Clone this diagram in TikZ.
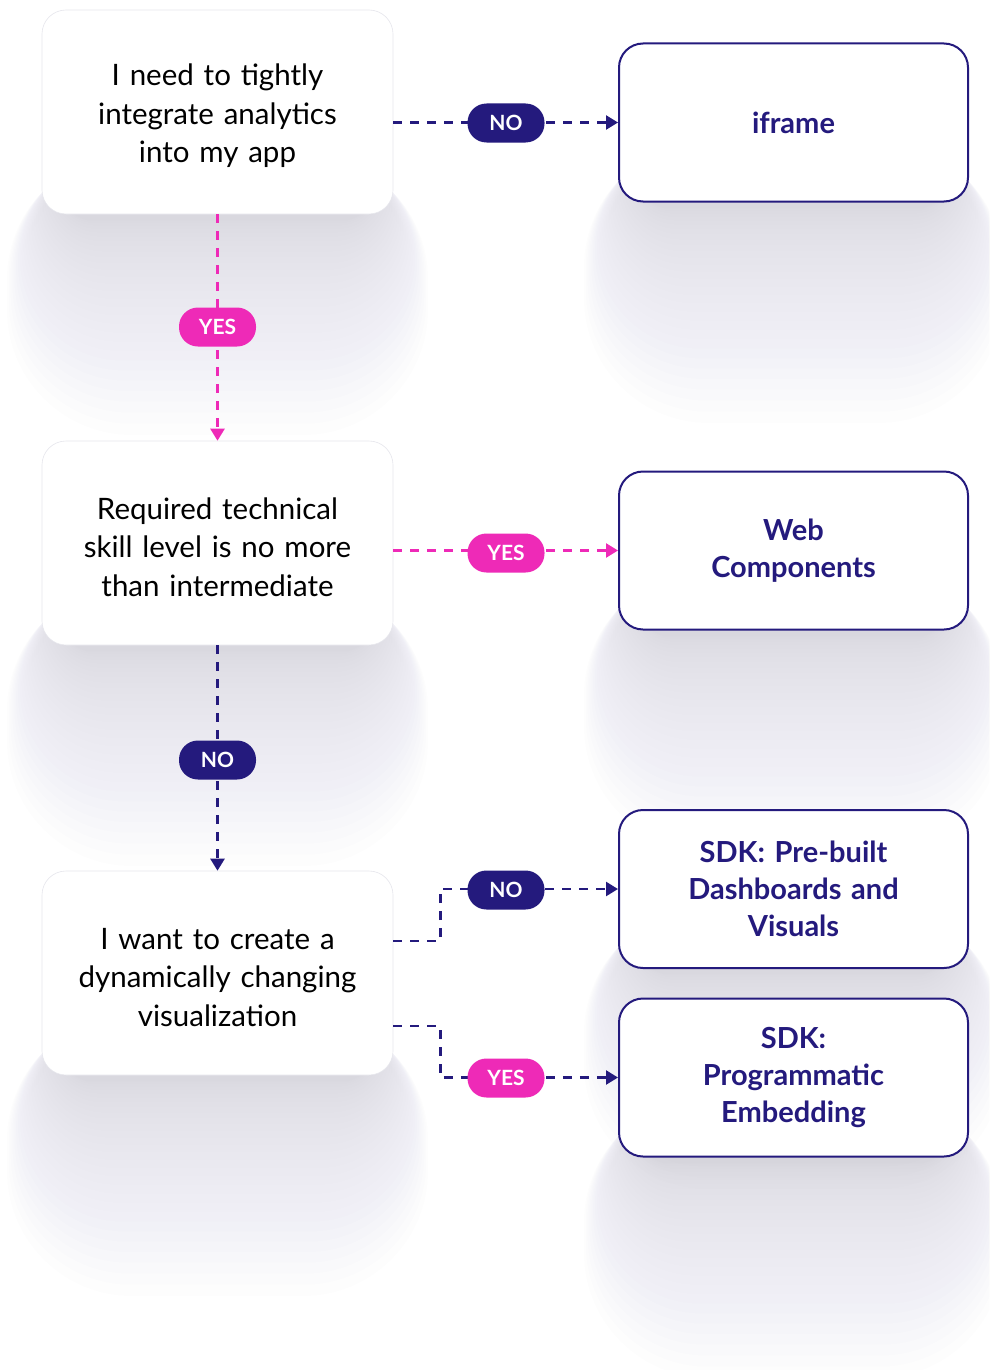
\documentclass[tikz,border=0pt]{standalone}
\usepackage{fontspec}
\setmainfont{Lato}
\usetikzlibrary{arrows.meta,calc}
\definecolor{navy}{HTML}{241A7D}
\definecolor{hotpink}{HTML}{EE2AB7}
\definecolor{edgegray}{HTML}{E6E6EC}
\definecolor{shadecol}{HTML}{72707E}

\newcommand{\firstline}{\rule{0pt}{30pt}}

\tikzset{
  qbox/.style={draw=edgegray, line width=0.6pt, fill=white, rounded corners=24pt,
    minimum width=351pt, minimum height=204pt, text width=330pt, align=center,
    font=\fontsize{29.5}{38.5}\selectfont, text=black},
  abox/.style={draw=navy, line width=2pt, fill=white, rounded corners=24pt,
    minimum width=349pt, minimum height=158pt, text width=330pt, align=center,
    font=\fontsize{29}{37}\selectfont\bfseries, text=navy},
  pill/.style={rounded corners=19pt, minimum width=77pt, minimum height=39pt,
    inner sep=0pt, text=white, font=\fontsize{21}{21}\selectfont\bfseries},
  nopill/.style={pill, fill=navy},
  yespill/.style={pill, fill=hotpink},
  link/.style={dash pattern=on 9pt off 8pt, line width=2.4pt},
  tip/.style={-{Triangle[length=12pt,width=14pt]}},
  shadelayer/.style={fill=shadecol, fill opacity=0.0085}
}

% soft drop shadow under a box: #1,#2 left/right x, #3 bottom y
\newcommand{\boxshade}[3]{%
  \foreach \k in {0,...,30}{%
    \pgfmathsetmacro{\t}{\k/30}%
    \pgfmathsetmacro{\xa}{#1+20-55*\t}%
    \pgfmathsetmacro{\xb}{#2-20+55*\t}%
    \pgfmathsetmacro{\ya}{#3-60}%
    \pgfmathsetmacro{\yb}{#3+6+215*(\t^1.6)}%
    \pgfmathsetmacro{\rr}{30+95*\t}%
    \fill[shadelayer, rounded corners=\rr pt] (\xa,\ya) rectangle (\xb,\yb);
  }%
}

\begin{document}
\begin{tikzpicture}[x=1pt,y=-1pt]
  \fill[white] (0,0) rectangle (989,1370);
  \useasboundingbox (0,0) rectangle (989,1370);

  % shadows
  \boxshade{42}{393}{214}
  \boxshade{42}{393}{645}
  \boxshade{42}{393}{1075}
  \boxshade{619}{968}{202}
  \boxshade{619}{968}{630}
  \boxshade{619}{968}{968}
  \boxshade{619}{968}{1157}

  % question boxes (left column)
  \node[qbox] (q1) at (217.5,112) {\firstline I need to tightly\\integrate analytics\\into my app};
  \node[qbox] (q2) at (217.5,543) {\firstline Required technical\\skill level is no more\\than intermediate};
  \node[qbox] (q3) at (217.5,973) {\firstline I want to create a\\dynamically changing\\visualization};

  % answer boxes (right column)
  \node[abox] (a1) at (793.5,122.5) {iframe};
  \node[abox] (a2) at (793.5,550.5) {Web\\Components};
  \node[abox] (a3) at (793.5,889) {SDK: Pre-built\\Dashboards and\\Visuals};
  \node[abox] (a4) at (793.5,1077.5) {SDK:\\Programmatic\\Embedding};

  % connectors
  \draw[link, navy, tip] (q1.east |- a1.west) -- (a1.west);
  \draw[link, hotpink, tip] (q1.south) -- (q2.north);
  \draw[link, hotpink, tip] (q2.east |- a2.west) -- (a2.west);
  \draw[link, navy, tip] (q2.south) -- (q3.north);
  \draw[link, navy, tip] ($(q3.east)+(0,-32)$) -- ++(47,0) |- (a3.west);
  \draw[link, navy, tip] ($(q3.east)+(0,53)$) -- ++(47,0) |- (a4.west);

  % decision labels
  \node[nopill] (l1) at (506,123) {NO};
  \node[yespill] (l2) at (217.5,327) {YES};
  \node[yespill] (l3) at (506,553) {YES};
  \node[nopill] (l4) at (217.5,760) {NO};
  \node[nopill] (l5) at (506,890) {NO};
  \node[yespill] (l6) at (506,1078) {YES};
\end{tikzpicture}
\end{document}
